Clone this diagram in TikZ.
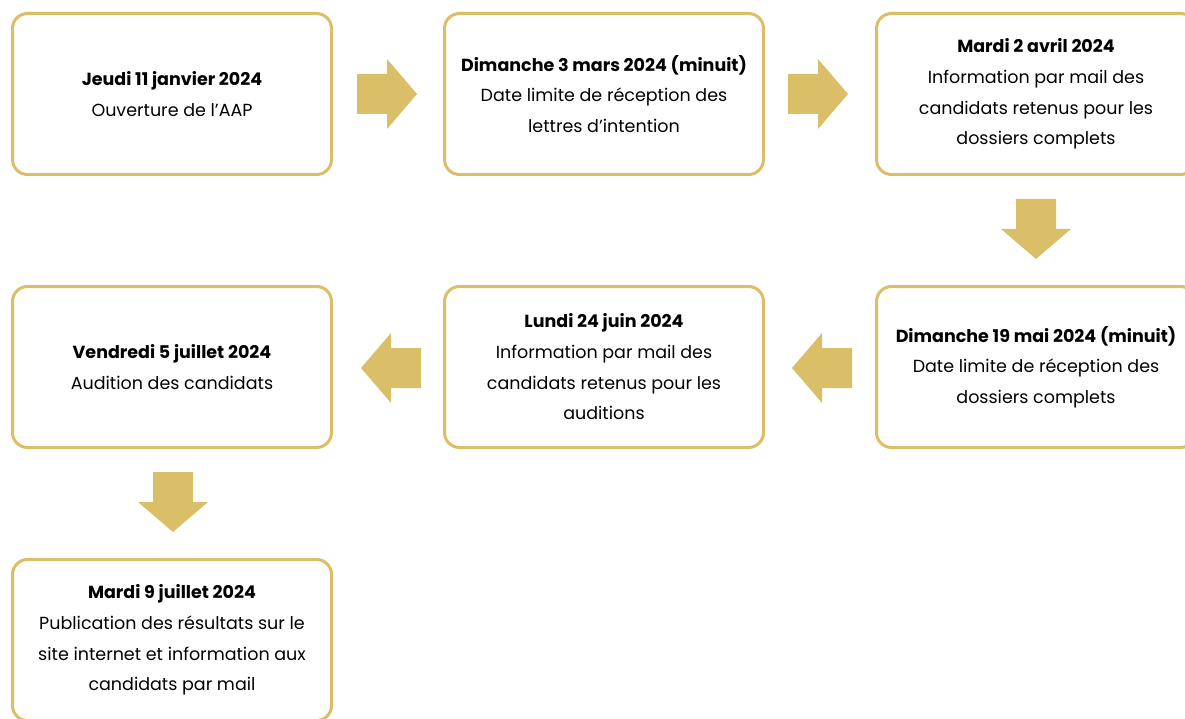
\documentclass[tikz,border=0pt]{standalone}
\usepackage{fontspec}
\setmainfont{Poppins}
\definecolor{gold}{RGB}{218,190,104}
\tikzset{
  box/.style={draw=gold, line width=3pt, rounded corners=15pt, minimum width=319pt, minimum height=161pt, align=center, inner sep=0pt, font=\fontsize{17.5}{30.7}\selectfont},
  fatarrow/.pic={\fill[gold] (-30,-20) -- (0,-20) -- (0,-35) -- (30,0) -- (0,35) -- (0,20) -- (-30,20) -- cycle;}
}
\begin{document}
\begin{tikzpicture}[x=1pt,y=-1pt]
\useasboundingbox (0,0) rectangle (1185,719);
\clip (0,0) rectangle (1185,719);
\node[box] (b1) at (172,94) {\textbf{Jeudi 11 janvier 2024}\\Ouverture de l’AAP};
\node[box] (b2) at (604,94) {\textbf{Dimanche 3 mars 2024 (minuit)}\\Date limite de réception des\\lettres d’intention};
\node[box] (b3) at (1036,94) {\textbf{Mardi 2 avril 2024}\\Information par mail des\\candidats retenus pour les\\dossiers complets};
\node[box] (b4) at (1036,367) {\textbf{Dimanche 19 mai 2024 (minuit)}\\Date limite de réception des\\dossiers complets};
\node[box] (b5) at (604,367) {\textbf{Lundi 24 juin 2024}\\Information par mail des\\candidats retenus pour les\\auditions};
\node[box] (b6) at (172,367) {\textbf{Vendredi 5 juillet 2024}\\Audition des candidats};
\node[box] (b7) at (172,640) {\textbf{Mardi 9 juillet 2024}\\Publication des résultats sur le\\site internet et information aux\\candidats par mail};
\pic at (387,94) {fatarrow};
\pic at (818,94) {fatarrow};
\pic[rotate=-90] at (1036,229) {fatarrow};
\pic[rotate=180] at (822,368) {fatarrow};
\pic[rotate=180] at (391,368) {fatarrow};
\pic[rotate=-90] at (173,502) {fatarrow};
\end{tikzpicture}
\end{document}
